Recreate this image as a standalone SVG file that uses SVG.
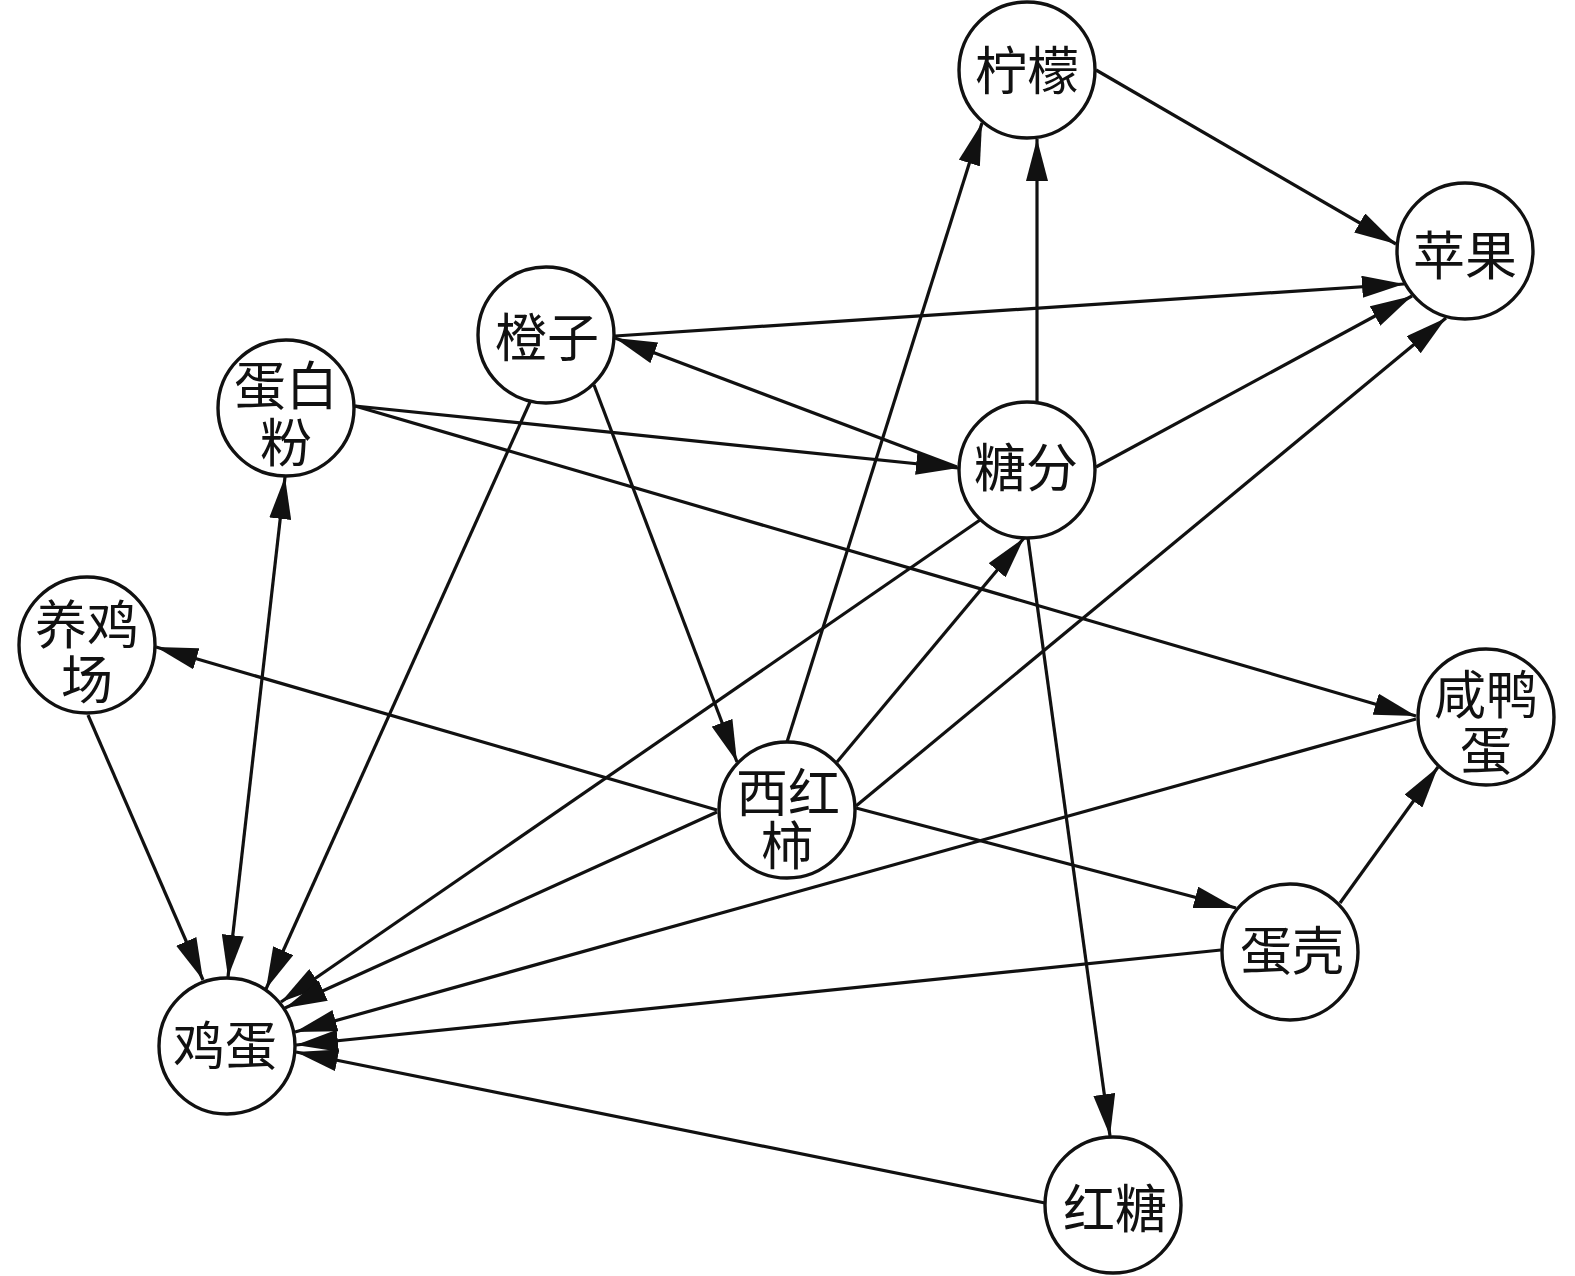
<svg xmlns="http://www.w3.org/2000/svg" width="1575" height="1276" viewBox="0 0 1575 1276">
<style>
.node circle{fill:#fff;stroke:#111;stroke-width:3.4}
.node text{font-family:"Liberation Serif","Noto Sans CJK SC",serif;font-size:52px;fill:#111;text-anchor:middle}
.edges path{fill:none;stroke:#111;stroke-width:3.2;marker-end:url(#arr)}
</style>
<defs>
<marker id="arr" markerUnits="userSpaceOnUse" markerWidth="42" markerHeight="22" refX="42" refY="11" orient="auto-start-reverse" viewBox="0 0 42 22">
<path d="M0,0 L42,11 L0,22 z" fill="#111"/>
</marker>
</defs>
<rect width="1575" height="1276" fill="#fff"/>
<g id="n-lemon" class="node"><circle cx="1027" cy="70" r="68"/><text x="1027" y="90">柠檬</text></g>
<g id="n-apple" class="node"><circle cx="1465" cy="251" r="68"/><text x="1465" y="275">苹果</text></g>
<g id="n-orange" class="node"><circle cx="546" cy="335" r="68"/><text x="547" y="357">橙子</text></g>
<g id="n-protein" class="node"><circle cx="286" cy="408" r="68"/><text x="286" y="405">蛋白</text><text x="286" y="462">粉</text></g>
<g id="n-sugar" class="node"><circle cx="1027" cy="470" r="68"/><text x="1026" y="487">糖分</text></g>
<g id="n-farm" class="node"><circle cx="87" cy="645" r="68"/><text x="87" y="644">养鸡</text><text x="87" y="699">场</text></g>
<g id="n-salted" class="node"><circle cx="1486" cy="717" r="68"/><text x="1486" y="714">咸鸭</text><text x="1486" y="770">蛋</text></g>
<g id="n-tomato" class="node"><circle cx="787" cy="810" r="68"/><text x="788" y="812">西红</text><text x="787" y="865">柿</text></g>
<g id="n-shell" class="node"><circle cx="1290" cy="952" r="68"/><text x="1292" y="970">蛋壳</text></g>
<g id="n-egg" class="node"><circle cx="227" cy="1046" r="68"/><text x="225" y="1065">鸡蛋</text></g>
<g id="n-brown" class="node"><circle cx="1113" cy="1205" r="68"/><text x="1115" y="1228">红糖</text></g>
<g id="edges" class="edges">
<path d="M1096,70 L1396,244"/>
<path d="M1037,402 L1037,139"/>
<path d="M787,742 L982,123"/>
<path d="M615,336 L1404,284"/>
<path d="M1096,467 L1412,296"/>
<path d="M856,806 L1446,318"/>
<path d="M957,467 L615,338"/>
<path d="M355,406 L958,468"/>
<path d="M355,406 L1416,716"/>
<path d="M285,477 L228,977" style="marker-start:url(#arr)"/>
<path d="M530,402 L266,989"/>
<path d="M594,385 L737,762"/>
<path d="M980,520 L281,1002"/>
<path d="M1028,538 L1110,1136"/>
<path d="M837,762 L1024,538"/>
<path d="M717,810 L156,647"/>
<path d="M717,812 L285,1008"/>
<path d="M856,808 L1236,908"/>
<path d="M1416,719 L295,1032"/>
<path d="M1340,903 L1438,767"/>
<path d="M1221,950 L296,1045"/>
<path d="M1045,1203 L296,1052"/>
<path d="M88,715 L203,980"/>
</g>
</svg>
